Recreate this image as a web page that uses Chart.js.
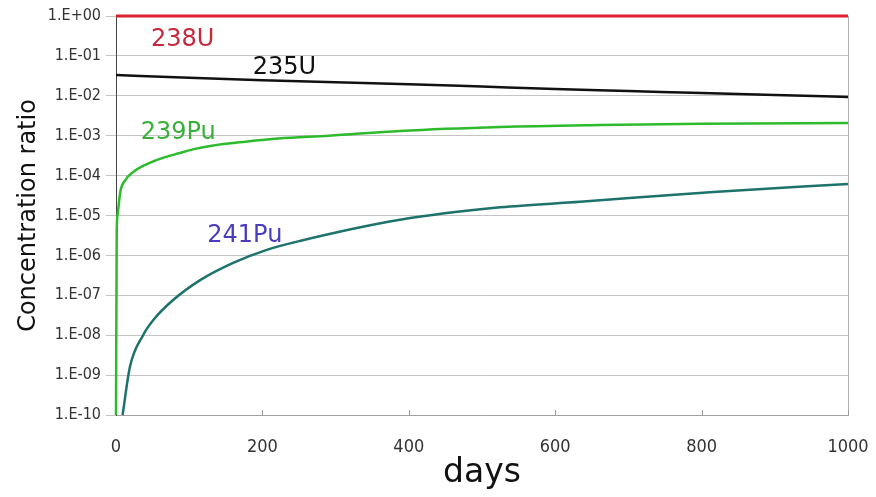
<!DOCTYPE html>
<html>
<head>
<meta charset="utf-8">
<script src="https://cdn.jsdelivr.net/npm/chart.js@4"></script>
<style>
  html, body { margin: 0; padding: 0; background: #fff; }
  #wrap { width: 876px; height: 497px; }
</style>
</head>
<body>
<div id="wrap"><canvas id="chart" width="876" height="497"></canvas></div>
<script>
// values
const u238Days = [0, 1000];
const u238Values = [1, 1];

const u235Days = [0, 100, 200, 300, 400, 500, 600, 700, 800, 900, 1000];
const u235Values = [0.0331, 0.0282, 0.0245, 0.0219, 0.0195, 0.0170, 0.0148, 0.0132, 0.0117, 0.0105, 0.0093];

const pu239Days = [0, 1, 2, 6, 13, 22, 40, 63, 86, 108, 131, 177, 222, 291, 388, 525, 661, 800, 1000];
const pu239Values = [1e-10, 4e-6, 1e-5, 4.0e-5, 7.8e-5, 1.17e-4, 1.86e-4, 2.75e-4, 3.63e-4, 4.68e-4, 5.62e-4, 7.08e-4, 8.51e-4, 1.0e-3, 1.32e-3, 1.66e-3, 1.86e-3, 2.0e-3, 2.09e-3];

const pu241Days = [9, 19, 37, 51, 78, 115, 160, 206, 251, 388, 525, 634, 816, 1000];
const pu241Values = [1e-10, 1.6e-9, 1e-8, 2.4e-8, 7.6e-8, 2.4e-7, 6.5e-7, 1.38e-6, 2.3e-6, 7.8e-6, 1.6e-5, 2.2e-5, 3.9e-5, 6.2e-5];

const yTickValues = [1, 1e-1, 1e-2, 1e-3, 1e-4, 1e-5, 1e-6, 1e-7, 1e-8, 1e-9, 1e-10];
const yTickLabels = ['1.E+00', '1.E-01', '1.E-02', '1.E-03', '1.E-04', '1.E-05', '1.E-06', '1.E-07', '1.E-08', '1.E-09', '1.E-10'];
const xTickValues = [0, 200, 400, 600, 800, 1000];
const xTickLabels = ['0', '200', '400', '600', '800', '1000'];

// series labels placed in data coordinates
const seriesLabels = [
    { text: '238U', day: 91, value: 0.25, color: '#c8283c' },
    { text: '235U', day: 230, value: 0.05, color: '#111111' },
    { text: '239Pu', day: 85, value: 1.2e-3, color: '#38b038' },
    { text: '241Pu', day: 176, value: 3.1e-6, color: '#4a3cbf' }
];

function toPoints(days, values) {
    return days.map((d, i) => ({ x: d, y: values[i] }));
}

const FONT = 'DejaVu Sans, sans-serif';
const TICK_FONT = '"DejaVu Sans Condensed", "DejaVu Sans", sans-serif';

const extrasPlugin = {
    id: 'extras',
    beforeDatasetsDraw(chart) {
        const { ctx, chartArea, scales } = chart;
        ctx.save();
        // right frame line
        ctx.strokeStyle = '#b0b0b0';
        ctx.lineWidth = 1;
        ctx.beginPath();
        ctx.moveTo(Math.round(chartArea.right) + 0.5, chartArea.top);
        ctx.lineTo(Math.round(chartArea.right) + 0.5, chartArea.bottom);
        ctx.stroke();
        // small inward tick marks on x axis
        ctx.strokeStyle = '#999999';
        xTickValues.forEach(v => {
            const px = Math.round(scales.x.getPixelForValue(v)) + 0.5;
            ctx.beginPath();
            ctx.moveTo(px, chartArea.bottom);
            ctx.lineTo(px, chartArea.bottom - 5);
            ctx.stroke();
        });
        ctx.restore();
    },
    afterDatasetsDraw(chart) {
        const { ctx, scales } = chart;
        ctx.save();
        ctx.font = '24px ' + FONT;
        ctx.textAlign = 'center';
        ctx.textBaseline = 'middle';
        seriesLabels.forEach(l => {
            ctx.fillStyle = l.color;
            ctx.fillText(l.text, scales.x.getPixelForValue(l.day), scales.y.getPixelForValue(l.value));
        });
        ctx.restore();
    }
};

const lineStyle = {
    fill: false,
    pointRadius: 0,
    borderWidth: 2.5,
    cubicInterpolationMode: 'monotone'
};

new Chart(document.getElementById('chart'), {
    type: 'line',
    data: {
        datasets: [
            Object.assign({ label: '238U', data: toPoints(u238Days, u238Values), borderColor: '#dd1f2e', borderWidth: 3 }, { fill: false, pointRadius: 0 }),
            Object.assign({ label: '235U', data: toPoints(u235Days, u235Values), borderColor: '#111111' }, lineStyle),
            Object.assign({ label: '239Pu', data: toPoints(pu239Days, pu239Values), borderColor: '#2dbb2d' }, lineStyle),
            Object.assign({ label: '241Pu', data: toPoints(pu241Days, pu241Values), borderColor: '#1d736c' }, lineStyle)
        ]
    },
    options: {
        responsive: false,
        animation: false,
        clip: false,
        layout: { padding: { top: 16, right: 0, left: 0, bottom: 0 } },
        plugins: {
            legend: { display: false },
            tooltip: { enabled: false }
        },
        scales: {
            x: {
                type: 'linear',
                min: 0,
                max: 1000,
                afterBuildTicks(scale) {
                    scale.ticks = xTickValues.map(v => ({ value: v }));
                },
                afterFit(scale) {
                    scale.height = 82;
                    scale.paddingLeft = 0;
                    scale.paddingRight = 28;
                },
                grid: { display: false, drawTicks: false },
                border: { display: true, color: '#a0a0a0', width: 1 },
                ticks: {
                    padding: 22,
                    color: '#333333',
                    font: { family: TICK_FONT, size: 18 },
                    maxRotation: 0,
                    callback(value) {
                        const i = xTickValues.indexOf(value);
                        return i >= 0 ? xTickLabels[i] : '';
                    }
                },
                title: {
                    display: true,
                    text: 'days',
                    color: '#111111',
                    font: { family: FONT, size: 33 },
                    padding: { top: 0, bottom: 4 }
                }
            },
            y: {
                type: 'logarithmic',
                min: 1e-10,
                max: 1,
                afterBuildTicks(scale) {
                    scale.ticks = yTickValues.map(v => ({ value: v }));
                },
                afterFit(scale) {
                    scale.width = 116;
                },
                grid: {
                    color: '#c4c4c4',
                    lineWidth: 1,
                    tickLength: 10,
                    drawTicks: true
                },
                border: { display: true, color: '#444444', width: 1 },
                ticks: {
                    padding: 5,
                    color: '#333333',
                    font: { family: TICK_FONT, size: 16 },
                    callback(value) {
                        const i = yTickValues.findIndex(v => Math.abs(Math.log10(v) - Math.log10(value)) < 1e-6);
                        return i >= 0 ? yTickLabels[i] : '';
                    }
                },
                title: {
                    display: true,
                    text: 'Concentration ratio',
                    color: '#111111',
                    font: { family: FONT, size: 24 },
                    padding: { top: 14, bottom: 0 }
                }
            }
        }
    },
    plugins: [extrasPlugin]
});
</script>
</body>
</html>
